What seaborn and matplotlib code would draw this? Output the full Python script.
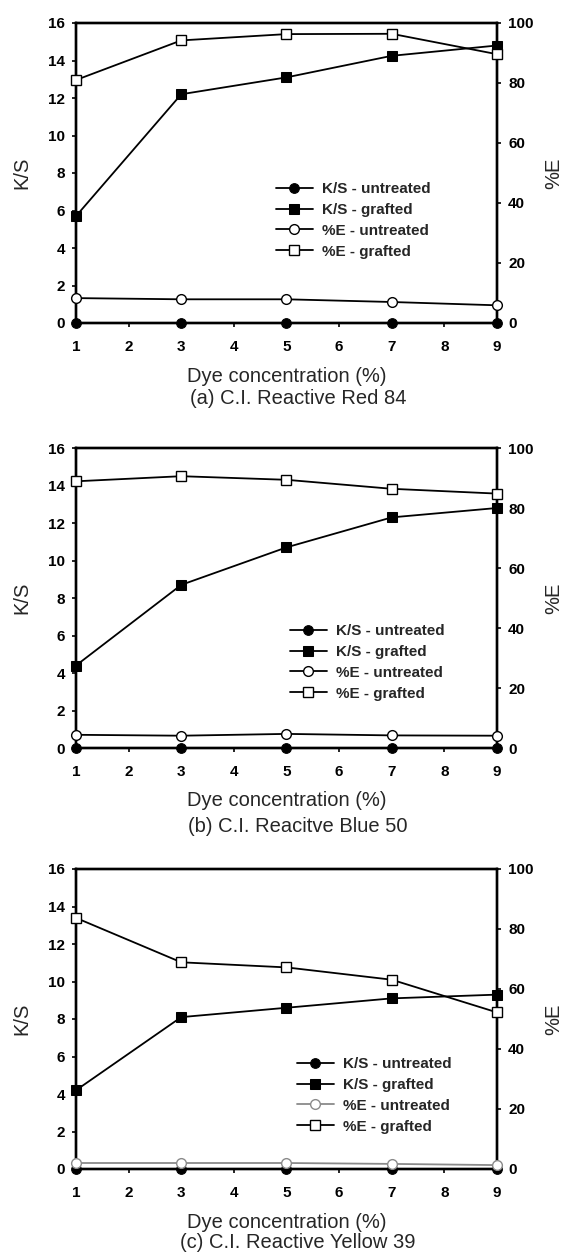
import numpy as np
import matplotlib
matplotlib.use("Agg")
import matplotlib.pyplot as plt
import seaborn as sns

conc = [1, 3, 5, 7, 9]

# (a) C.I. Reactive Red 84
ks_untr_a = [0, 0, 0, 0, 0]
ks_graft_a = [5.7, 12.2, 13.1, 14.25, 14.8]
e_untr_a = [8.3, 7.9, 7.9, 7.0, 5.9]
e_graft_a = [81.0, 94.2, 96.3, 96.4, 89.6]

# (b) C.I. Reacitve Blue 50
ks_untr_b = [0, 0, 0, 0, 0]
ks_graft_b = [4.4, 8.7, 10.7, 12.3, 12.8]
e_untr_b = [4.4, 4.1, 4.7, 4.2, 4.1]
e_graft_b = [88.9, 90.6, 89.4, 86.4, 84.8]

# (c) C.I. Reactive Yellow 39
ks_untr_c = [0, 0, 0, 0, 0]
ks_graft_c = [4.2, 8.1, 8.6, 9.1, 9.3]
e_untr_c = [2.0, 2.0, 2.0, 1.7, 1.3]
e_graft_c = [83.7, 68.9, 67.2, 63.1, 52.2]

captions = ["(a) C.I. Reactive Red 84", "(b) C.I. Reacitve Blue 50", "(c) C.I. Reactive Yellow 39"]
series_names = ["K/S - untreated", "K/S - grafted", "%E - untreated", "%E - grafted"]

sns.set_style("ticks")
plt.rcParams['font.family'] = ['Liberation Sans', 'DejaVu Sans']

W, H = 565, 1257
fig = plt.figure(figsize=(W / 100, H / 100), dpi=100)

# pixel layout of each panel: top, bottom, legend anchor (x px, first row top px), caption y, e-untreated colour
panels = [
    dict(top=23, bot=323, leg=(276, 180), cap=399, ecol="black",
         data=(ks_untr_a, ks_graft_a, e_untr_a, e_graft_a)),
    dict(top=448, bot=748, leg=(290, 622), cap=826, ecol="black",
         data=(ks_untr_b, ks_graft_b, e_untr_b, e_graft_b)),
    dict(top=869, bot=1169, leg=(297, 1055), cap=1243, ecol="#8a8a8a",
         data=(ks_untr_c, ks_graft_c, e_untr_c, e_graft_c)),
]
left_px, right_px = 76, 497
lab_size = 14.5

for i, p in enumerate(panels):
    ax = fig.add_axes([left_px / W, 1 - p["bot"] / H, (right_px - left_px) / W, (p["bot"] - p["top"]) / H])
    ax2 = ax.twinx()
    ks_u, ks_g, e_u, e_g = p["data"]
    common = dict(errorbar=None, legend=False, linewidth=1.3, clip_on=False)

    sns.lineplot(x=conc, y=ks_u, ax=ax, color="black", marker="o", markersize=7,
                 markerfacecolor="black", markeredgecolor="black", label=series_names[0], zorder=5, **common)
    sns.lineplot(x=conc, y=ks_g, ax=ax, color="black", marker="s", markersize=7.5,
                 markerfacecolor="black", markeredgecolor="black", label=series_names[1], zorder=5, **common)
    sns.lineplot(x=conc, y=e_u, ax=ax2, color=p["ecol"], marker="o", markersize=7,
                 markerfacecolor="white", markeredgecolor=p["ecol"], markeredgewidth=1.0,
                 label=series_names[2], zorder=5, **common)
    sns.lineplot(x=conc, y=e_g, ax=ax2, color="black", marker="s", markersize=7.5,
                 markerfacecolor="white", markeredgecolor="black", markeredgewidth=1.0,
                 label=series_names[3], zorder=5, **common)

    ax.set_xlim(1, 9)
    ax.set_ylim(0, 16)
    ax2.set_ylim(0, 100)
    ax.set_xticks(range(1, 10))
    ax.set_yticks(range(0, 17, 2))
    ax2.set_yticks(range(0, 101, 20))

    for a in (ax, ax2):
        for s in a.spines.values():
            s.set_linewidth(1.7)
            s.set_color("black")
        a.tick_params(direction="out", length=3, width=1.2, labelsize=11, colors="black")
        for lab in a.get_xticklabels() + a.get_yticklabels():
            lab.set_fontweight("bold")
    ax.tick_params(axis="x", pad=9)
    ax.tick_params(axis="y", pad=5)
    ax2.tick_params(axis="y", pad=5)

    ax.set_xlabel("Dye concentration (%)", fontsize=lab_size, va="center")
    ax.xaxis.set_label_coords(0.5, -(376 - 323) / 300)
    ax.set_ylabel("K/S", fontsize=lab_size, va="center")
    ax.yaxis.set_label_coords((22 - left_px) / (right_px - left_px), 0.5)
    ax2.set_ylabel("%E", fontsize=lab_size, va="center")
    ax2.yaxis.set_label_coords((554 - left_px) / (right_px - left_px), 0.5)

    fig.text(298 / W, 1 - p["cap"] / H, captions[i], fontsize=lab_size, ha="center", va="center")

    h1, l1 = ax.get_legend_handles_labels()
    h2, l2 = ax2.get_legend_handles_labels()
    lx, ly = p["leg"]
    ax2.legend(h1 + h2, l1 + l2, loc="upper left",
               bbox_to_anchor=((lx - left_px) / (right_px - left_px), (p["bot"] - ly - 2) / (p["bot"] - p["top"])),
               frameon=False, borderpad=0, borderaxespad=0, handlelength=2.4, handletextpad=0.6,
               labelspacing=0.45, prop={"weight": "bold", "size": 11})

plt.savefig("out.png", dpi=100)
